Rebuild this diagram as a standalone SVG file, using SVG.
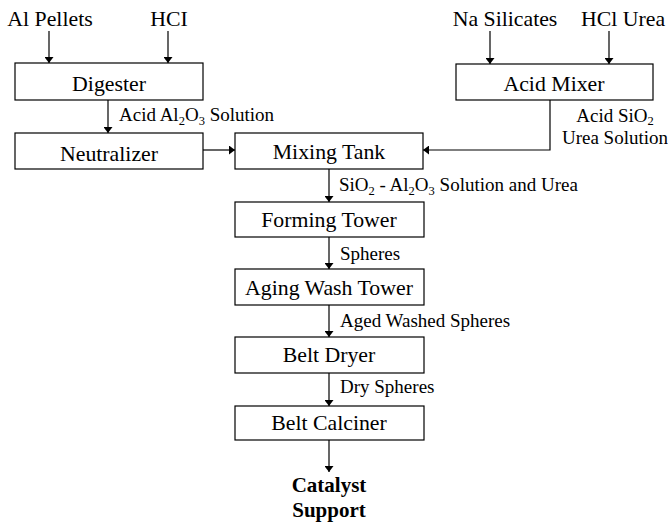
<svg xmlns="http://www.w3.org/2000/svg" width="668" height="523" viewBox="0 0 668 523">
<defs>
<marker id="ah" viewBox="0 0 10 10" refX="10" refY="5" markerWidth="6" markerHeight="9" markerUnits="userSpaceOnUse" orient="auto" preserveAspectRatio="none">
<path d="M0,0 L10,5 L0,10 z" fill="#000"/>
</marker>
<style>
rect{fill:#fff;stroke:#000;stroke-width:1.2}
text{font-family:'Liberation Serif','DejaVu Serif','Times New Roman',serif;fill:#000}
.n{font-size:21.8px;text-anchor:middle}
.in{font-size:21.8px;text-anchor:middle}
.l{font-size:19px}
.s{font-size:12.5px}
.b{font-size:21px;font-weight:bold;text-anchor:middle}
.c line,.c path{stroke:#000;stroke-width:1.2;fill:none;marker-end:url(#ah)}
</style>
</defs>
<rect x="0" y="0" width="668" height="523" style="fill:#fff;stroke:none"/>
<g id="inputs">
<text class="in" x="50" y="26">Al Pellets</text>
<text class="in" x="169" y="26">HCI</text>
<text class="in" x="505" y="26">Na Silicates</text>
<text class="in" x="623" y="26">HCl Urea</text>
</g>
<g id="digester"><rect x="15" y="63" width="188" height="37"/><text class="n" x="109" y="91">Digester</text></g>
<g id="neutralizer"><rect x="15" y="133" width="188" height="36"/><text class="n" x="109" y="161">Neutralizer</text></g>
<g id="acidmixer"><rect x="456" y="64" width="197" height="36"/><text class="n" x="554" y="91">Acid Mixer</text></g>
<g id="mixingtank"><rect x="235" y="133" width="188" height="36"/><text class="n" x="329" y="159">Mixing Tank</text></g>
<g id="formingtower"><rect x="235" y="202" width="189" height="35"/><text class="n" x="329" y="227">Forming Tower</text></g>
<g id="agingwashtower"><rect x="235" y="269" width="189" height="36"/><text class="n" x="329" y="295">Aging Wash Tower</text></g>
<g id="beltdryer"><rect x="235" y="337" width="189" height="36"/><text class="n" x="329" y="362">Belt Dryer</text></g>
<g id="beltcalciner"><rect x="235" y="406" width="189" height="34"/><text class="n" x="329" y="430">Belt Calciner</text></g>
<g id="output"><text class="b" x="329" y="492">Catalyst</text><text class="b" x="329" y="517">Support</text></g>
<g id="connectors" class="c">
<line x1="49" y1="31" x2="49" y2="63"/>
<line x1="168" y1="31" x2="168" y2="63"/>
<line x1="490" y1="31" x2="490" y2="64"/>
<line x1="609" y1="31" x2="609" y2="64"/>
<line x1="108" y1="100" x2="108" y2="133"/>
<line x1="203" y1="150" x2="235" y2="150"/>
<path d="M550,100 L550,150 L423,150"/>
<line x1="329" y1="169" x2="329" y2="202"/>
<line x1="329" y1="237" x2="329" y2="269"/>
<line x1="329" y1="305" x2="329" y2="337"/>
<line x1="329" y1="373" x2="329" y2="406"/>
<line x1="329" y1="440" x2="329" y2="472"/>
</g>
<g id="labels">
<text class="l" x="119" y="121">Acid Al<tspan class="s" dy="4">2</tspan><tspan dy="-4">O</tspan><tspan class="s" dy="4">3</tspan><tspan dy="-4"> Solution</tspan></text>
<text class="l" x="615" y="122" text-anchor="middle">Acid SiO<tspan class="s" dy="3">2</tspan></text>
<text class="l" x="615" y="144" text-anchor="middle">Urea Solution</text>
<text class="l" x="339" y="191">SiO<tspan class="s" dy="4">2</tspan><tspan dy="-4"> - Al</tspan><tspan class="s" dy="4">2</tspan><tspan dy="-4">O</tspan><tspan class="s" dy="4">3</tspan><tspan dy="-4"> Solution and Urea</tspan></text>
<text class="l" x="340" y="260">Spheres</text>
<text class="l" x="340" y="327">Aged Washed Spheres</text>
<text class="l" x="340" y="393">Dry Spheres</text>
</g>
</svg>
